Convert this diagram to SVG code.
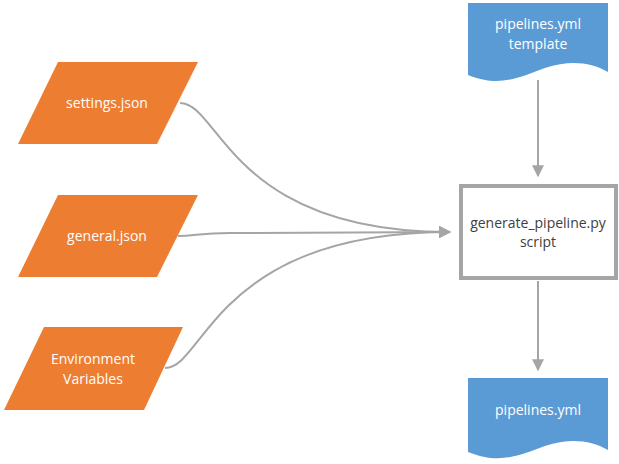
<svg xmlns="http://www.w3.org/2000/svg" width="619" height="464" viewBox="0 0 619 464">
<defs>
<style>
.io{fill:#ed7d31}
.doc{fill:#5b9bd5}
.lbl{font-family:"Open Sans","Noto Sans",sans-serif;font-size:14px;fill:#ffffff;text-anchor:middle}
.dark{fill:#404040}
.conn{fill:none;stroke:#a5a5a5;stroke-width:2;marker-end:url(#ah)}
</style>
<marker id="ah" viewBox="0 0 10 10" refX="9" refY="5" markerWidth="6" markerHeight="6" markerUnits="strokeWidth" orient="auto">
<path d="M0,0 L10,5 L0,10 Z" fill="#a5a5a5"/>
</marker>
</defs>
<rect width="619" height="464" fill="#ffffff"/>
<g id="connectors">
<path class="conn" d="M180,103 C220,103 230,232 450,232"/>
<path class="conn" d="M178,236 C195,236 200,233 230,233 L450,232"/>
<path class="conn" d="M165,368 C205,368 215,232 450,232"/>
<path class="conn" d="M538,80 L538,176"/>
<path class="conn" d="M538,281 L538,370"/>
</g>
<g id="settings">
<polygon class="io" points="58,62 198,62 157,144 18,144"/>
<text class="lbl" x="107" y="108">settings.json</text>
</g>
<g id="general">
<polygon class="io" points="58,195 198,195 157,277 18,277"/>
<text class="lbl" x="107" y="241">general.json</text>
</g>
<g id="env">
<polygon class="io" points="44,327 183,327 144,410 4,410"/>
<text class="lbl" x="93" y="364">Environment</text>
<text class="lbl" x="93" y="384">Variables</text>
</g>
<g id="template">
<path class="doc" d="M468,3 L608,3 L608,72 C590,62 570,60 545,68 C520,77 500,88 468,75 Z"/>
<text class="lbl" x="538" y="29">pipelines.yml</text>
<text class="lbl" x="538" y="49">template</text>
</g>
<g id="script">
<rect x="461" y="186" width="155" height="92" fill="#ffffff" stroke="#a5a5a5" stroke-width="4"/>
<text class="lbl dark" x="538" y="228">generate_pipeline.py</text>
<text class="lbl dark" x="538" y="247">script</text>
</g>
<g id="output">
<path class="doc" d="M468,378 L608,378 L608,450 C590,440 570,438 545,446 C520,455 500,465 468,452 Z"/>
<text class="lbl" x="538" y="415">pipelines.yml</text>
</g>
</svg>
